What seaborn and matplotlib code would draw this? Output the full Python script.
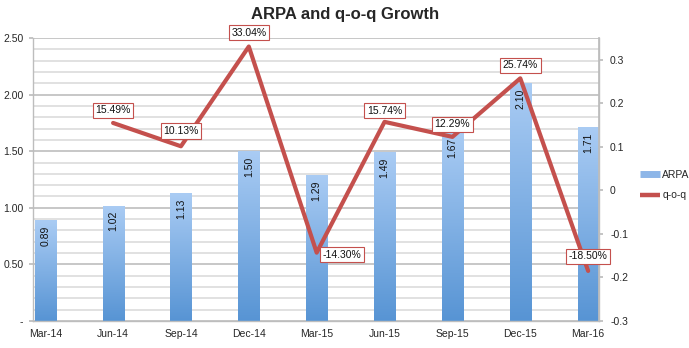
import numpy as np
import pandas as pd
import matplotlib
matplotlib.use("Agg")
import matplotlib.pyplot as plt
import seaborn as sns
from matplotlib.lines import Line2D
from matplotlib.colors import LinearSegmentedColormap
from matplotlib.ticker import MultipleLocator, FuncFormatter

categories = ["Mar-14", "Jun-14", "Sep-14", "Dec-14", "Mar-15", "Jun-15", "Sep-15", "Dec-15", "Mar-16"]
arpa = [0.89, 1.02, 1.13, 1.50, 1.29, 1.49, 1.67, 2.10, 1.71]
qoq = [np.nan, 0.1549, 0.1013, 0.3304, -0.1430, 0.1574, 0.1229, 0.2574, -0.1850]
qoq_labels = ["", "15.49%", "10.13%", "33.04%", "-14.30%", "15.74%", "12.29%", "25.74%", "-18.50%"]

sns.set_theme(style="white")
plt.rcParams["font.family"] = ["Liberation Sans", "DejaVu Sans"]

BLUE_TOP = "#AACCF4"
BLUE_BOT = "#5794D4"
RED = "#C4504D"
GRID_MINOR = "#DCDCDC"
GRID_MAJOR = "#BDBDBD"

fig = plt.figure(figsize=(6.89, 3.48), dpi=100)
ax = fig.add_axes([33 / 689, 27 / 348, 566 / 689, 283 / 348])

df = pd.DataFrame({"period": categories, "ARPA": arpa})
sns.barplot(data=df, x="period", y="ARPA", color=BLUE_BOT, width=0.31, ax=ax, zorder=2)

# gradient fill for each bar
cmap = LinearSegmentedColormap.from_list("bg", [BLUE_BOT, BLUE_TOP])
grad = np.linspace(0, 1, 256).reshape(-1, 1)
for p in ax.patches:
    x0, y0 = p.get_x(), p.get_y()
    w, h = p.get_width(), p.get_height()
    im = ax.imshow(grad, cmap=cmap, origin="lower", aspect="auto",
                   extent=(x0, x0 + w, y0, y0 + h), zorder=2.1, interpolation="bicubic")
    im.set_clip_path(p)
    p.set_edgecolor("none")

# bar value labels
for i, v in enumerate(arpa):
    ax.annotate(f"{v:.2f}", xy=(i, v), xytext=(0, -4), textcoords="offset points",
                ha="center", va="top", rotation=90, fontsize=7.5, color="#111111", zorder=5)

ax.set_xlim(-0.18, len(categories) - 1 + 0.16)
ax.set_ylim(0, 2.5)
ax.yaxis.set_major_locator(MultipleLocator(0.5))
ax.yaxis.set_minor_locator(MultipleLocator(0.1))
ax.yaxis.set_major_formatter(FuncFormatter(lambda v, _: "-" if abs(v) < 1e-9 else f"{v:.2f}"))
ax.grid(axis="y", which="minor", color=GRID_MINOR, lw=1.2, zorder=0)
ax.grid(axis="y", which="major", color=GRID_MAJOR, lw=1.2, zorder=0)
ax.set_axisbelow(True)
ax.set_xlabel("")
ax.set_ylabel("")
ax.tick_params(axis="y", which="major", length=3, color=GRID_MAJOR, labelsize=7.5, pad=4)
ax.tick_params(axis="y", which="minor", length=0)
ax.tick_params(axis="x", which="major", length=0, labelsize=7.5, pad=6)
ax.set_xticks(np.arange(len(categories)) - 0.17, minor=True)
ax.tick_params(axis="x", which="minor", length=4, color=GRID_MAJOR, direction="out")
for s in ["top"]:
    ax.spines[s].set_visible(False)
for s in ["left", "bottom", "right"]:
    ax.spines[s].set_color(GRID_MAJOR)
    ax.spines[s].set_linewidth(1.0)

ax2 = ax.twinx()
sns.lineplot(x=np.arange(len(categories)), y=qoq, ax=ax2, color=RED, lw=3.0, zorder=3)
ax2.set_ylim(-0.3, 0.35)
ax2.yaxis.set_major_locator(MultipleLocator(0.1))
ax2.yaxis.set_major_formatter(FuncFormatter(lambda v, _: "0" if abs(v) < 1e-9 else f"{v:.1f}"))
ax2.set_yticks([-0.3, -0.2, -0.1, 0, 0.1, 0.2, 0.3])
ax2.tick_params(axis="y", length=3, color=GRID_MAJOR, labelsize=7.5, pad=5)
ax2.set_ylabel("")
for s in ["top", "left", "bottom"]:
    ax2.spines[s].set_visible(False)
ax2.spines["right"].set_color(GRID_MAJOR)
ax2.grid(False)

offsets = {1: (0, 9), 2: (0, 11), 3: (0, 10), 4: (18, -1.5), 5: (0, 8), 6: (0, 9), 7: (0, 9.5), 8: (0, 10.5)}
for i, (v, lab) in enumerate(zip(qoq, qoq_labels)):
    if not lab:
        continue
    ax2.annotate(lab, xy=(i, v), xytext=offsets.get(i, (0, 9)), textcoords="offset points",
                 ha="center", va="center", fontsize=7.5, color="#111111", zorder=6,
                 bbox=dict(boxstyle="square,pad=0.25", fc="white", ec=RED, lw=0.8))

handles = [Line2D([0], [0], color="#8DB6E8", lw=5, solid_capstyle="butt"),
           Line2D([0], [0], color=RED, lw=3.2, solid_capstyle="butt")]
ax2.legend(handles, ["ARPA", "q-o-q"], loc="center left", bbox_to_anchor=(1.055, 0.48),
           frameon=False, fontsize=7.5, handlelength=2.0, handletextpad=0.2, labelspacing=1.0)

fig.suptitle("ARPA and q-o-q Growth", x=345 / 689, y=1 - 15 / 348, va="center",
             fontsize=12, fontweight="bold")

fig.savefig("out.png", dpi=100)
